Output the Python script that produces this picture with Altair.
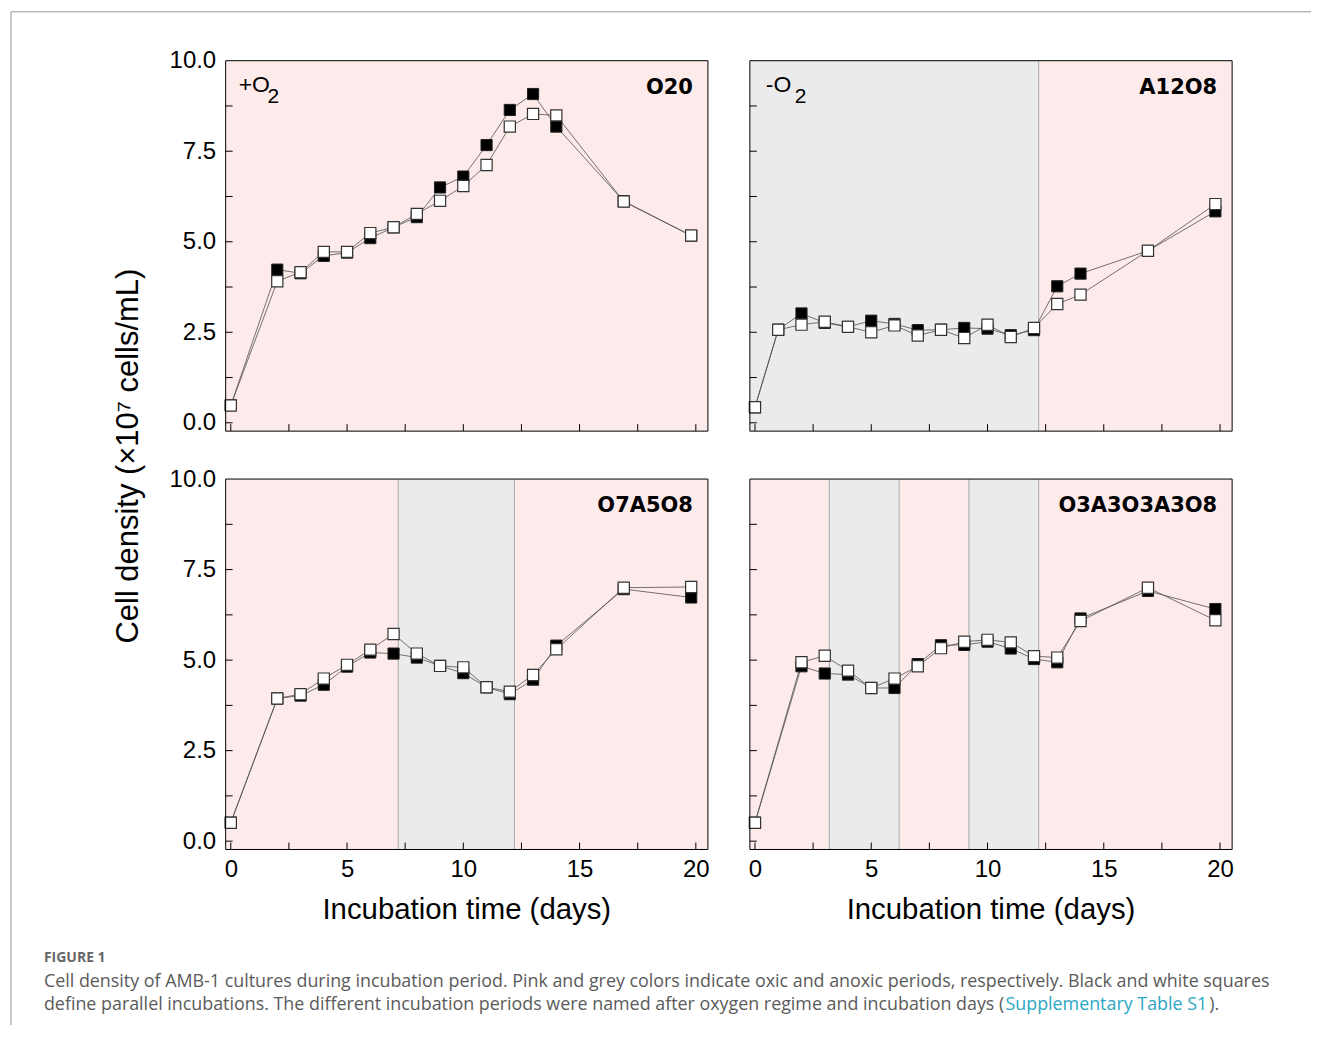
import altair as alt
import pandas as pd

FONT = "Liberation Sans"
W, H = 483, 371
X_MIN, X_MAX = -0.22, 20.52
Y_MIN, Y_MAX = -0.23, 10.0

PINK = "#fdeaea"
GREY = "#ebebeb"

# ---------------- data ----------------
DAYS_O20 = [0, 2, 3, 4, 5, 6, 7, 8, 9, 10, 11, 12, 13, 14, 16.9, 19.8]
BLACK_O20 = [0.48, 4.23, 4.13, 4.61, 4.70, 5.10, 5.40, 5.68, 6.50, 6.80, 7.67, 8.64, 9.08, 8.18, 6.12, 5.17]
WHITE_O20 = [0.48, 3.91, 4.16, 4.72, 4.72, 5.24, 5.40, 5.77, 6.13, 6.54, 7.12, 8.18, 8.53, 8.49, 6.11, 5.17]

DAYS_A12O8 = [0, 1, 2, 3, 4, 5, 6, 7, 8, 9, 10, 11, 12, 13, 14, 16.9, 19.8]
BLACK_A12O8 = [0.43, 2.57, 3.02, 2.76, 2.65, 2.82, 2.73, 2.56, 2.57, 2.62, 2.60, 2.42, 2.56, 3.77, 4.12, 4.75, 5.84]
WHITE_A12O8 = [0.43, 2.57, 2.71, 2.79, 2.65, 2.50, 2.69, 2.41, 2.57, 2.34, 2.71, 2.37, 2.62, 3.28, 3.54, 4.75, 6.04]

DAYS_O7A5O8 = [0, 2, 3, 4, 5, 6, 7, 8, 9, 10, 11, 12, 13, 14, 16.9, 19.8]
BLACK_O7A5O8 = [0.51, 3.94, 4.02, 4.32, 4.82, 5.21, 5.18, 5.07, 4.84, 4.64, 4.25, 4.06, 4.46, 5.40, 6.96, 6.73]
WHITE_O7A5O8 = [0.51, 3.94, 4.06, 4.49, 4.87, 5.29, 5.72, 5.18, 4.84, 4.80, 4.25, 4.13, 4.59, 5.30, 7.00, 7.02]

DAYS_O3A3 = [0, 2, 3, 4, 5, 6, 7, 8, 9, 10, 11, 12, 13, 14, 16.9, 19.8]
BLACK_O3A3 = [0.51, 4.83, 4.63, 4.60, 4.23, 4.23, 4.89, 5.41, 5.42, 5.51, 5.32, 5.03, 4.94, 6.15, 6.91, 6.41]
WHITE_O3A3 = [0.51, 4.94, 5.12, 4.71, 4.23, 4.49, 4.83, 5.33, 5.51, 5.56, 5.49, 5.11, 5.07, 6.08, 7.00, 6.10]

# oxygen regimes (O = oxic / pink, A = anoxic / grey) and the days they switch
REGIMES = {
    "O20": ["O"],
    "A12O8": ["A", "O"],
    "O7A5O8": ["O", "A", "O"],
    "O3A3O3A3O8": ["O", "A", "O", "A", "O"],
}
SWITCH_DAYS = {
    "O20": [],
    "A12O8": [12.2],
    "O7A5O8": [7.2, 12.2],
    "O3A3O3A3O8": [3.2, 6.2, 9.2, 12.2],
}

X_TICKS = [0, 2.5, 5, 7.5, 10, 12.5, 15, 17.5, 20]
Y_TICKS = [0, 1.25, 2.5, 3.75, 5, 6.25, 7.5, 8.75]
X_LABELS = [0, 5, 10, 15, 20]
Y_LABELS = [0, 2.5, 5, 7.5, 10]

Y_TITLE = "Cell density (\u00d710\u2077 cells/mL)"
X_TITLE = "Incubation time (days)"
CAPTION_HEAD = "FIGURE 1"
CAPTION_1 = ("Cell density of AMB-1 cultures during incubation period. Pink and grey colors indicate "
             "oxic and anoxic periods, respectively. Black and white squares")
CAPTION_2 = ("define parallel incubations. The different incubation periods were named after oxygen "
             "regime and incubation days (")
CAPTION_LINK = "Supplementary Table S1"
CAPTION_END = ")."

xs = alt.Scale(domain=[X_MIN, X_MAX], nice=False, zero=False)
ys = alt.Scale(domain=[Y_MIN, Y_MAX], nice=False, zero=False)
regime_scale = alt.Scale(domain=["O", "A"], range=[PINK, GREY])


def txt(s, x, y, size, color="black", align="left", baseline="middle",
        weight="normal", font=FONT, angle=0):
    m = dict(text=s, fontSize=size, color=color, align=align, baseline=baseline,
             fontWeight=weight, font=font)
    if angle:
        m["angle"] = angle
    return alt.Chart(alt.Data(values=[{}])).mark_text(**m).encode(
        x=alt.value(x), y=alt.value(y))


def panel(name, days, black, white, show_x, show_y, o2=None, extra=()):
    regimes = REGIMES[name]
    sw = SWITCH_DAYS[name]
    regions = pd.DataFrame({
        "start": [X_MIN] + sw,
        "end": sw + [X_MAX],
        "regime": regimes,
    })
    dfb = pd.DataFrame({"day": days, "value": black})
    dfw = pd.DataFrame({"day": days, "value": white})

    if show_x:
        xax = alt.Axis(values=X_LABELS, format="d", ticks=False, domain=False,
                       grid=False, labelFont=FONT, labelFontSize=24, labelColor="black",
                       labelPadding=8, labelFlush=False, title=None)
    else:
        xax = None
    if show_y:
        yax = alt.Axis(values=Y_LABELS, format=".1f", ticks=False, domain=False,
                       grid=False, labelFont=FONT, labelFontSize=24, labelColor="black",
                       labelPadding=10, labelFlush=False, title=None)
    else:
        yax = None

    def X(f):
        return alt.X(f, scale=xs, axis=xax)

    def Y(f):
        return alt.Y(f, scale=ys, axis=yax)

    bg = alt.Chart(regions).mark_rect().encode(
        x=X("start:Q"), x2="end:Q",
        y=alt.value(0), y2=alt.value(H),
        color=alt.Color("regime:N", scale=regime_scale, legend=None))
    layers = [bg]
    if sw:
        layers.append(alt.Chart(pd.DataFrame({"d": sw})).mark_rule(
            color="#a8a8a8", strokeWidth=1).encode(
            x=X("d:Q"), y=alt.value(0), y2=alt.value(H)))

    xt = alt.Chart(pd.DataFrame({"t": X_TICKS})).mark_rule(color="black", strokeWidth=1).encode(
        x=X("t:Q"), y=alt.value(H), y2=alt.value(H - 7))
    yt = alt.Chart(pd.DataFrame({"t": Y_TICKS})).mark_rule(color="black", strokeWidth=1).encode(
        y=Y("t:Q"), x=alt.value(0), x2=alt.value(7))
    layers += [xt, yt]

    lb = alt.Chart(dfb).mark_line(color="#505050", strokeWidth=0.8).encode(
        x=X("day:Q"), y=Y("value:Q"))
    lw = alt.Chart(dfw).mark_line(color="#505050", strokeWidth=0.8).encode(
        x=X("day:Q"), y=Y("value:Q"))
    pb = alt.Chart(dfb).mark_point(shape="square", filled=True, fill="black", stroke="#222222",
                                   strokeWidth=1, size=125, opacity=1).encode(
        x=X("day:Q"), y=Y("value:Q"))
    pw = alt.Chart(dfw).mark_point(shape="square", filled=True, fill="white", stroke="#333333",
                                   strokeWidth=1.2, size=125, opacity=1).encode(
        x=X("day:Q"), y=Y("value:Q"))
    layers += [lb, lw, pb, pw]

    frame = alt.Chart(alt.Data(values=[{}])).mark_rect(
        filled=False, stroke="black", strokeWidth=1).encode(
        x=alt.value(0), x2=alt.value(W), y=alt.value(0), y2=alt.value(H))
    layers.append(frame)

    layers.append(txt(name, W - 15, 33, 21, align="right", baseline="alphabetic",
                      weight="bold", font="DejaVu Sans"))
    if o2 is not None:
        sign, dx = o2
        layers.append(txt(sign + "O", dx, 31, 23, baseline="alphabetic"))
        layers.append(txt("2", dx + 29, 42, 21, baseline="alphabetic"))
    layers += list(extra)
    return alt.layer(*layers).properties(width=W, height=H)


# extra annotations
p1_extra = [
    txt(Y_TITLE, -97, 396, 31, align="center", baseline="middle", angle=270),
    # page frame lines
    alt.Chart(alt.Data(values=[{}])).mark_rule(color="#999999", strokeWidth=1).encode(
        x=alt.value(-215), x2=alt.value(1087), y=alt.value(-49)),
    alt.Chart(alt.Data(values=[{}])).mark_rule(color="#999999", strokeWidth=1).encode(
        x=alt.value(-215), y=alt.value(-49), y2=alt.value(966)),
]
xtitle = [txt(X_TITLE, W / 2, 441, 29.4, align="center", baseline="alphabetic")]

CAP_FONT = "Open Sans"
CAP_SIZE = 17.9
caption = [
    txt(CAPTION_HEAD, -182, 480, 14, color="#666666", weight="bold", font=CAP_FONT),
    txt(CAPTION_1, -182, 504, CAP_SIZE, color="#5a5a5a", font=CAP_FONT),
    txt(CAPTION_2, -182, 527, CAP_SIZE, color="#5a5a5a", font=CAP_FONT),
    txt(CAPTION_LINK, 1006 - 225, 527, CAP_SIZE, color="#2aa7c4", font=CAP_FONT),
    txt(CAPTION_END, 1210 - 225, 527, CAP_SIZE, color="#5a5a5a", font=CAP_FONT),
]

p1 = panel("O20", DAYS_O20, BLACK_O20, WHITE_O20, False, True, ("+", 13), p1_extra)
p2 = panel("A12O8", DAYS_A12O8, BLACK_A12O8, WHITE_A12O8, False, False, ("-", 16))
p3 = panel("O7A5O8", DAYS_O7A5O8, BLACK_O7A5O8, WHITE_O7A5O8, True, True, None,
           xtitle + caption)
p4 = panel("O3A3O3A3O8", DAYS_O3A3, BLACK_O3A3, WHITE_O3A3, True, False, None, xtitle)

chart = alt.concat(p1, p2, p3, p4, columns=2, spacing={"row": 48, "column": 42},
                   bounds="flush").properties(padding=2).configure_view(stroke="transparent")

chart.save("out.html", embed_options={"renderer": "svg", "actions": False})
